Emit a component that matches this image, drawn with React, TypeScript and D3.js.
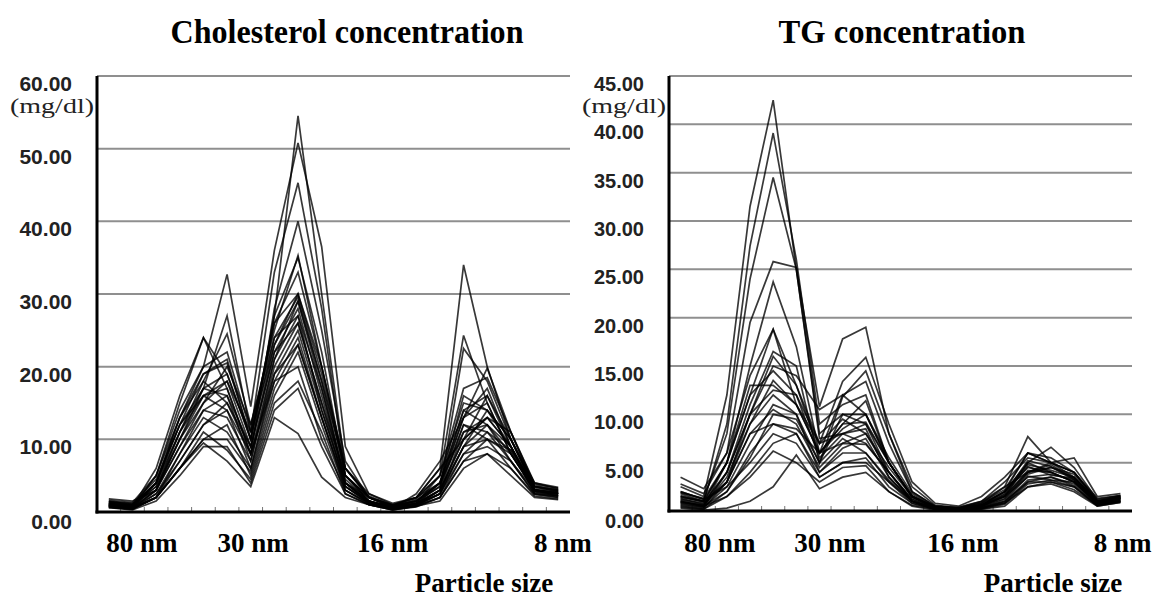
import * as d3 from "d3";

// 20 particle-size fractions, large (80 nm) -> small (8 nm)
const fractions = [
  "F01", "F02", "F03", "F04", "F05", "F06", "F07", "F08", "F09", "F10",
  "F11", "F12", "F13", "F14", "F15", "F16", "F17", "F18", "F19", "F20",
];

const sizeLabels = ["80 nm", "30 nm", "16 nm", "8 nm"];
// where each size label sits, in fraction units
const sizeLabelAtChol = [1.4, 6.1, 12, 19.2];
const sizeLabelAtTg = [1.7, 6.45, 12.2, 19.1];

const cholTicks = [0, 10, 20, 30, 40, 50, 60];
const tgTicks = [0, 5, 10, 15, 20, 25, 30, 35, 40, 45];

// cholesterol, mg/dl, one row per subject
const cholSeries: number[][] = [
  [1.2, 0.6, 5, 15, 24, 19, 10, 27, 54.5, 30, 6, 2, 0.8, 1, 4, 16, 14, 9, 3, 2.5],
  [0.8, 0.5, 4, 13, 20, 32.7, 14.5, 36, 50.8, 36.5, 9, 2.5, 1.2, 2, 6, 34, 20, 10, 3.5, 2.8],
  [1.8, 1.5, 3, 10, 17, 27, 11, 33, 45.3, 28, 5, 1.5, 0.7, 1.2, 5, 24.3, 15, 8, 3, 2.2],
  [1, 0.7, 6, 16, 24, 17, 8, 28, 40, 25, 7, 2, 0.5, 2.5, 7, 13, 19.8, 11, 4, 3.2],
  [0.6, 0.4, 3, 11, 18, 24.5, 12, 25, 35.3, 20, 5, 1.5, 0.6, 1, 3, 22.5, 18, 10, 3, 2.6],
  [1.1, 0.9, 4, 12, 19, 20.5, 10, 24, 29.6, 18, 4, 1.2, 0.5, 0.8, 3, 10, 16, 9, 2.8, 2.4],
  [0.9, 0.5, 2, 8, 14, 16, 7, 20, 26, 15, 3.5, 1.3, 0.8, 1.5, 3.5, 12, 11, 8.5, 3.5, 3],
  [1.4, 1.2, 3, 9, 15, 18, 9, 22, 28, 16, 4, 2, 1, 2, 4, 14, 12, 7, 3, 2.6],
  [0.7, 0.4, 2.5, 7, 12, 14, 6, 18, 24, 13, 3, 1, 0.3, 0.8, 2.5, 11, 13, 9, 2.8, 2.2],
  [1.0, 0.6, 3, 10, 16, 17, 8, 21, 27, 17, 4.5, 1.5, 0.5, 1.2, 3, 9, 14, 10, 3.2, 2.8],
  [1.2, 0.8, 5, 13, 18, 15, 9, 23, 30, 19, 5, 2, 0.7, 1.5, 4, 13, 15, 8, 3, 2.5],
  [0.8, 0.5, 2, 6, 10, 12, 5, 16, 22, 12, 3, 1.2, 0.5, 1, 2.5, 8, 11, 7, 2.5, 2],
  [1.5, 1.0, 4, 11, 17, 19, 10, 26, 33, 20, 6, 2, 0.8, 1.8, 5, 17, 18.5, 11, 3.8, 3.3],
  [0.6, 0.3, 1.5, 5, 9, 9, 4, 14, 17, 9, 2.5, 1, 0.3, 0.7, 2, 7, 10, 6, 2.2, 1.8],
  [0.9, 0.5, 2, 6, 9.5, 7, 3.5, 13, 10.8, 4.8, 2, 1, 0.4, 0.8, 1.5, 6, 8, 5, 2, 1.7],
  [1.1, 0.7, 3.5, 10, 15, 20, 12, 24, 27, 14, 4, 1.5, 0.6, 1.2, 3, 12, 10, 8, 3, 2.5],
  [1.3, 0.9, 4, 12, 17, 16, 9, 22, 26, 15, 5, 2, 1, 2, 6, 10, 13, 9, 3.5, 3],
  [1, 0.6, 2.5, 8, 13, 11, 6, 19, 25, 14, 4, 1.5, 0.5, 1, 2.5, 9, 12, 9, 3, 2.6],
  [0.7, 0.4, 2, 6, 10, 10, 5.5, 17, 23, 13, 3.5, 1.2, 0.4, 0.9, 2, 8, 9, 7, 2.5, 2.2],
  [1.2, 1, 3.5, 11, 16, 18, 11, 23, 29, 18, 6, 2.5, 1, 1.5, 4, 14, 16, 10, 3.6, 3.1],
  [0.9, 0.7, 4, 13, 19, 21, 10, 27, 35, 22, 5, 2, 0.8, 1.3, 3.5, 13, 17, 9, 3, 2.7],
  [1, 0.6, 3, 9, 14, 13, 7, 21, 29, 17, 4, 1.5, 0.6, 1.1, 3, 10, 13, 11, 3.4, 2.9],
  [1.4, 1.1, 4.5, 12, 16, 14, 8, 19, 23, 13, 3.5, 1.4, 0.7, 1.6, 4, 11, 12, 8, 3, 2.5],
  [0.8, 0.5, 2, 7, 12, 15, 8, 18, 20, 10, 3, 1.2, 0.5, 1, 2.5, 9, 10, 8.5, 2.6, 2.2],
  [1.6, 1.3, 5, 14, 20, 22, 11, 26, 30, 20, 6, 2.2, 0.9, 2, 5, 15, 14, 10, 4, 3.4],
  [0.7, 0.4, 2, 6, 11, 8.5, 4.5, 15, 18, 11, 2.5, 1, 0.3, 0.8, 2, 7, 8, 6, 2.4, 2],
];

// triglyceride, mg/dl, one row per subject
const tgSeries: number[][] = [
  [2.5, 1.5, 12, 31.5, 42.5, 25, 8, 10, 9, 4, 1, 0.3, 0.2, 0.6, 2, 6, 5, 4, 1, 1.5],
  [1.5, 1, 9, 27.4, 39.1, 26, 9, 11, 12, 5, 1.5, 0.4, 0.3, 0.8, 2.5, 7.7, 5, 3.5, 0.8, 1.4],
  [2, 1.2, 8, 24, 34.5, 25, 7.5, 8, 8.5, 3.5, 1, 0.2, 0.1, 0.5, 1.5, 5, 6.6, 4.5, 1.2, 1.6],
  [3.5, 2.3, 6, 19.5, 25.8, 25.2, 10.8, 17.8, 19, 8, 2, 0.5, 0.4, 1, 3, 5.5, 5, 5.5, 1.5, 1.8],
  [1, 0.5, 5, 15, 23.7, 17, 6, 9, 11.4, 5, 1.5, 0.3, 0.2, 0.6, 2, 4.5, 4, 3, 0.8, 1.2],
  [1.8, 1, 5, 12, 18.8, 13, 7, 13.4, 15.9, 9, 3, 0.8, 0.5, 1.5, 3.5, 6, 5.5, 4, 1.3, 1.6],
  [0.8, 0.4, 4, 11, 16.5, 15, 5, 11.8, 14.5, 8, 2.5, 0.6, 0.3, 1, 2.5, 4, 4.5, 3.5, 1, 1.3],
  [1.2, 0.8, 3, 10, 15, 14, 10.5, 12, 13.4, 7, 2, 0.5, 0.3, 0.8, 2, 5, 4, 3, 0.9, 1.4],
  [0.6, 0.3, 3, 9, 13.5, 11, 6, 9, 9.2, 5, 1.5, 0.3, 0.2, 0.6, 1.5, 3.5, 3.8, 3.2, 0.7, 1.1],
  [1.5, 0.9, 4, 10, 12.5, 12, 5.5, 8, 7, 4, 1.2, 0.3, 0.2, 0.5, 1.5, 4.2, 4, 3, 1, 1.3],
  [0.9, 0.6, 3, 8, 10.5, 9, 4.5, 7, 6.9, 4, 1, 0.2, 0.1, 0.3, 1, 3, 3.5, 2.8, 0.7, 1],
  [0.5, 0.2, 2, 6, 9, 8, 4, 6, 6, 3, 1, 0.2, 0.1, 0.3, 0.8, 2.5, 3, 2.5, 0.6, 1],
  [2, 1.2, 2.5, 5, 8, 7, 3.5, 5, 5.5, 2.5, 0.8, 0.2, 0.1, 0.2, 0.7, 2.8, 3.2, 2.5, 0.5, 0.9],
  [1, 0.5, 1.5, 3.5, 6.2, 5, 3, 4.5, 4.7, 2, 0.6, 0.2, 0.1, 0.3, 0.8, 3, 3, 2.2, 0.6, 1],
  [0.3, 0.1, 0.3, 1, 2.5, 5.8, 2.3, 3.5, 4, 2, 0.5, 0.1, 0.1, 0.2, 0.5, 2.5, 2.8, 2, 0.5, 0.9],
  [1.3, 0.7, 4, 10, 16, 13, 6, 7, 8, 4.5, 1.5, 0.4, 0.2, 0.7, 2, 4.8, 4.2, 3.5, 1, 1.5],
  [0.7, 0.4, 2.5, 7, 11, 10, 5, 10, 10, 5.5, 1.8, 0.4, 0.2, 0.6, 1.6, 4, 5, 4, 1, 1.4],
  [1.6, 1, 5, 13, 13, 11, 7, 9.5, 8, 4, 1.2, 0.3, 0.2, 0.6, 1.8, 5.2, 4.6, 3.2, 0.9, 1.3],
  [2.8, 1.8, 6, 14, 18.8, 11, 6, 8.5, 10, 5, 1.5, 0.4, 0.3, 0.9, 2.2, 6, 5, 4, 1.1, 1.6],
  [1.1, 0.6, 3.5, 9, 12, 10, 4, 6.5, 7.5, 3.5, 1, 0.2, 0.1, 0.4, 1.2, 3.8, 4.5, 3.8, 0.8, 1.2],
  [0.4, 0.2, 1.5, 4, 7, 8, 3.5, 5, 5, 3, 0.8, 0.2, 0.1, 0.3, 0.9, 3.2, 3.5, 2.6, 0.6, 1],
  [1.9, 1.3, 5, 12, 14.5, 12, 7, 8, 9, 5, 1.6, 0.4, 0.2, 0.5, 1.7, 4.6, 3.7, 3.4, 1, 1.5],
  [0.9, 0.5, 2, 5.5, 10, 9.5, 5, 7.5, 6, 3.2, 1, 0.3, 0.1, 0.4, 1, 3.6, 3.2, 3, 0.7, 1.1],
  [1.4, 1, 3, 8, 9, 8.5, 6, 12, 10, 5, 1.4, 0.4, 0.2, 0.5, 1.3, 4, 4.8, 3.3, 0.9, 1.3],
];

const serif = "'Liberation Serif', 'Times New Roman', serif";
const sans = "'Liberation Sans', Arial, sans-serif";

function Panel({
  title,
  titleWidth,
  titleX,
  series,
  ticks,
  left,
  right,
  top,
  bottom,
  tickFont,
  labelAt,
  xTitleShift,
}: {
  title: string;
  titleWidth: number;
  titleX: number;
  series: number[][];
  ticks: number[];
  left: number;
  right: number;
  top: number;
  bottom: number;
  tickFont: number;
  labelAt: number[];
  xTitleShift: number;
}) {
  const x = d3
    .scaleLinear()
    .domain([-0.5, fractions.length - 0.5])
    .range([left, right]);
  const y = d3
    .scaleLinear()
    .domain([0, d3.max(ticks) ?? 1])
    .range([bottom, top]);

  const line = d3
    .line<number>()
    .x((_, i) => x(i))
    .y((d) => y(d));

  const boundaries = fractions.slice(1).map((_, i) => i + 0.5);

  return (
    <g>
      <text
        x={titleX - titleWidth / 2}
        y={43}
        fontFamily={serif}
        fontWeight="bold"
        fontSize={33}
        textLength={titleWidth}
        lengthAdjust="spacingAndGlyphs"
      >
        {title}
      </text>

      {/* grid */}
      {ticks.slice(1).map((t) => (
        <line
          key={t}
          x1={left}
          x2={right}
          y1={y(t)}
          y2={y(t)}
          stroke="#8f8f8f"
          strokeWidth={2}
        />
      ))}

      {/* y tick labels */}
      {ticks.map((t) => (
        <text
          key={t}
          x={left - 25}
          y={y(t) + (t === 0 ? 17 : 15)}
          textAnchor="end"
          fontFamily={sans}
          fontWeight="bold"
          fontSize={tickFont}
          fill="#222"
        >
          {t.toFixed(2)}
        </text>
      ))}
      <text
        x={left - 87}
        y={top + 37}
        fontFamily={serif}
        fontSize={22}
        textLength={84}
        lengthAdjust="spacingAndGlyphs"
        fill="#222"
      >
        (mg/dl)
      </text>

      {/* small ticks between fractions */}
      {boundaries.map((b) => (
        <line
          key={b}
          x1={x(b)}
          x2={x(b)}
          y1={bottom}
          y2={bottom - 5}
          stroke="#777"
          strokeWidth={1}
        />
      ))}

      {series.map((s, i) => (
        <path
          key={i}
          d={line(s) ?? ""}
          fill="none"
          stroke="#000"
          strokeOpacity={0.78}
          strokeWidth={1.7}
          strokeLinejoin="miter"
        />
      ))}

      {/* axes */}
      <line x1={left} x2={left} y1={top} y2={bottom + 1.5} stroke="#000" strokeWidth={3} />
      <line x1={left - 1.5} x2={right} y1={bottom} y2={bottom} stroke="#000" strokeWidth={3} />

      {sizeLabels.map((l, i) => (
        <text
          key={l}
          x={x(labelAt[i])}
          y={552}
          textAnchor="middle"
          fontFamily={serif}
          fontWeight="bold"
          fontSize={27}
        >
          {l}
        </text>
      ))}
      <text
        x={right - xTitleShift}
        y={592}
        textAnchor="middle"
        fontFamily={serif}
        fontWeight="bold"
        fontSize={27}
      >
        Particle size
      </text>
    </g>
  );
}

export default function App() {
  return (
    <svg
      width={1157}
      height={599}
      viewBox="0 0 1157 599"
      style={{ position: "absolute", left: 0, top: 0, background: "#fff" }}
    >
      <rect width={1157} height={599} fill="#fff" />
      <Panel
        title="Cholesterol concentration"
        titleWidth={353}
        titleX={347}
        series={cholSeries}
        ticks={cholTicks}
        left={97}
        right={570}
        top={76}
        bottom={512}
        tickFont={21}
        labelAt={sizeLabelAtChol}
        xTitleShift={86}
      />
      <Panel
        title="TG concentration"
        titleWidth={247}
        titleX={902}
        series={tgSeries}
        ticks={tgTicks}
        left={669}
        right={1132}
        top={76}
        bottom={511}
        tickFont={20}
        labelAt={sizeLabelAtTg}
        xTitleShift={79}
      />
    </svg>
  );
}
